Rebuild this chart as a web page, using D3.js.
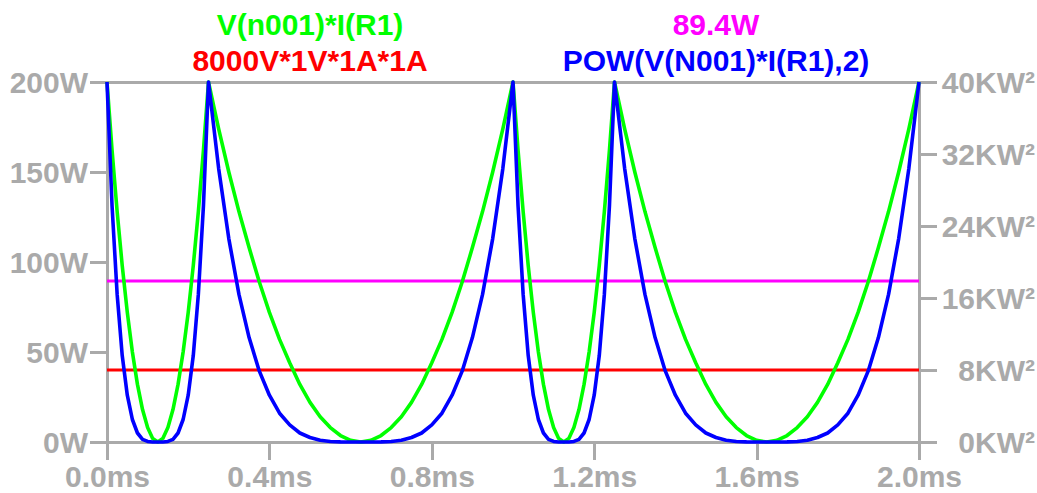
<!DOCTYPE html>
<html lang="en">
<head>
<meta charset="UTF-8">
<title>Power trace</title>
<style>
  body { margin: 0; background: #fff; }
  svg text { font-family: Arial, "Liberation Sans", sans-serif; font-weight: bold; font-size: 30px; }
  .axis path, .axis line { stroke: #aaaaaa; stroke-width: 3px; shape-rendering: crispEdges; }
  .axis text { fill: #aaaaaa; }
  .trace { fill: none; stroke-width: 3.6px; stroke-linejoin: round; }
</style>
</head>
<body>
<div id="chart"></div>
<script src="https://d3js.org/d3.v7.min.js"></script>
<script>
// time samples (ms)
var timeMs = [
  0, 0.0125, 0.025, 0.0375, 0.05, 0.0625, 0.075, 0.0875, 0.1, 0.1125, 0.125,
  0.1375, 0.15, 0.1625, 0.175, 0.1875, 0.2, 0.2125, 0.225, 0.2375, 0.25,
  0.275, 0.3, 0.325, 0.35, 0.375, 0.4, 0.425, 0.45, 0.475, 0.5,
  0.525, 0.55, 0.575, 0.6, 0.625, 0.65, 0.675, 0.7, 0.725, 0.75,
  0.775, 0.8, 0.825, 0.85, 0.875, 0.9, 0.925, 0.95, 0.975, 1.0,
  1.0125, 1.025, 1.0375, 1.05, 1.0625, 1.075, 1.0875, 1.1, 1.1125, 1.125,
  1.1375, 1.15, 1.1625, 1.175, 1.1875, 1.2, 1.2125, 1.225, 1.2375, 1.25,
  1.275, 1.3, 1.325, 1.35, 1.375, 1.4, 1.425, 1.45, 1.475, 1.5,
  1.525, 1.55, 1.575, 1.6, 1.625, 1.65, 1.675, 1.7, 1.725, 1.75,
  1.775, 1.8, 1.825, 1.85, 1.875, 1.9, 1.925, 1.95, 1.975, 2.0
];

// V(n001)*I(R1) in W
var powerW = [
  200, 162, 128, 98, 72, 50, 32, 18, 8, 2, 0,
  2, 8, 18, 32, 50, 72, 98, 128, 162, 200,
  174, 150, 128, 108, 89, 72, 57, 44, 32, 22,
  14, 8, 3.6, 0.9, 0, 0.9, 3.6, 8, 14, 22,
  32, 44, 57, 72, 89, 108, 128, 150, 174, 200,
  162, 128, 98, 72, 50, 32, 18, 8, 2, 0,
  2, 8, 18, 32, 50, 72, 98, 128, 162, 200,
  174, 150, 128, 108, 89, 72, 57, 44, 32, 22,
  14, 8, 3.6, 0.9, 0, 0.9, 3.6, 8, 14, 22,
  32, 44, 57, 72, 89, 108, 128, 150, 174, 200
];

// POW(V(N001)*I(R1),2) in KW²
var powerSqKW2 = [
  40, 26.2, 16.4, 9.6, 5.2, 2.5, 1.0, 0.3, 0.06, 0, 0,
  0, 0.06, 0.3, 1.0, 2.5, 5.2, 9.6, 16.4, 26.2, 40,
  30.4, 22.6, 16.4, 11.6, 7.9, 5.2, 3.2, 1.9, 1.0, 0.5,
  0.2, 0.06, 0.01, 0, 0, 0, 0.01, 0.06, 0.2, 0.5,
  1.0, 1.9, 3.2, 5.2, 7.9, 11.6, 16.4, 22.6, 30.4, 40,
  26.2, 16.4, 9.6, 5.2, 2.5, 1.0, 0.3, 0.06, 0, 0,
  0, 0.06, 0.3, 1.0, 2.5, 5.2, 9.6, 16.4, 26.2, 40,
  30.4, 22.6, 16.4, 11.6, 7.9, 5.2, 3.2, 1.9, 1.0, 0.5,
  0.2, 0.06, 0.01, 0, 0, 0, 0.01, 0.06, 0.2, 0.5,
  1.0, 1.9, 3.2, 5.2, 7.9, 11.6, 16.4, 22.6, 30.4, 40
];

// constant traces
var avgPowerW = 89.4;     // magenta, left axis
var constKW2 = 8;         // red, right axis (8000V*1V*1A*1A)

var xTicks = [0, 0.4, 0.8, 1.2, 1.6, 2.0];
var leftTicks = [0, 50, 100, 150, 200];
var rightTicks = [0, 8, 16, 24, 32, 40];

var width = 1037, height = 493;
var plotLeft = 107, plotRight = 919, plotTop = 82, plotBottom = 442;

var svg = d3.select("#chart")
    .append("svg")
    .attr("width", width)
    .attr("height", height);

var x = d3.scaleLinear().domain([0, 2]).range([plotLeft, plotRight]);
var yL = d3.scaleLinear().domain([0, 200]).range([plotBottom, plotTop]);
var yR = d3.scaleLinear().domain([0, 40]).range([plotBottom, plotTop]);

// frame top line
svg.append("g").attr("class", "axis")
    .append("line")
    .attr("x1", plotLeft).attr("x2", plotRight)
    .attr("y1", plotTop).attr("y2", plotTop);

svg.append("g")
    .attr("class", "axis")
    .attr("transform", "translate(0," + plotBottom + ")")
    .call(d3.axisBottom(x).tickValues(xTicks).tickSize(18).tickSizeOuter(0).tickPadding(6)
        .tickFormat(function (d) { return d.toFixed(1) + "ms"; }));

svg.append("g")
    .attr("class", "axis")
    .attr("transform", "translate(" + plotLeft + ",0)")
    .call(d3.axisLeft(yL).tickValues(leftTicks).tickSize(17).tickSizeOuter(0).tickPadding(2)
        .tickFormat(function (d) { return d + "W"; }))
    .selectAll("text").attr("dy", "0.36em");

var rAxis = svg.append("g")
    .attr("class", "axis")
    .attr("transform", "translate(" + plotRight + ",0)")
    .call(d3.axisRight(yR).tickValues(rightTicks).tickSize(18).tickSizeOuter(0)
        .tickFormat(function (d) { return d + "KW\u00b2"; }));
rAxis.selectAll("text")
    .attr("text-anchor", "end")
    .attr("x", 1035 - plotRight)
    .attr("dy", "0.36em");

// horizontal traces
svg.append("line")
    .attr("x1", plotLeft).attr("x2", plotRight)
    .attr("y1", yL(avgPowerW)).attr("y2", yL(avgPowerW))
    .attr("stroke", "#ff00ff").attr("stroke-width", 3);

svg.append("line")
    .attr("x1", plotLeft).attr("x2", plotRight)
    .attr("y1", yR(constKW2)).attr("y2", yR(constKW2))
    .attr("stroke", "#ff0000").attr("stroke-width", 3);

var greenLine = d3.line()
    .x(function (d, i) { return x(timeMs[i]); })
    .y(function (d) { return yL(d); });

var blueLine = d3.line()
    .x(function (d, i) { return x(timeMs[i]); })
    .y(function (d) { return yR(d); });

svg.append("path")
    .datum(powerW)
    .attr("class", "trace")
    .attr("stroke", "#00ff00")
    .attr("d", greenLine);

svg.append("path")
    .datum(powerSqKW2)
    .attr("class", "trace")
    .attr("stroke", "#0000ff")
    .attr("d", blueLine);

// trace names
var midL = plotLeft + (plotRight - plotLeft) * 0.25;
var midR = plotLeft + (plotRight - plotLeft) * 0.75;

svg.append("text").attr("x", midL).attr("y", 35).attr("text-anchor", "middle")
    .attr("fill", "#00ff00").text("V(n001)*I(R1)");
svg.append("text").attr("x", midL).attr("y", 71).attr("text-anchor", "middle")
    .attr("fill", "#ff0000").text("8000V*1V*1A*1A");
svg.append("text").attr("x", midR).attr("y", 35).attr("text-anchor", "middle")
    .attr("fill", "#ff00ff").text("89.4W");
svg.append("text").attr("x", midR).attr("y", 71).attr("text-anchor", "middle")
    .attr("fill", "#0000ff").text("POW(V(N001)*I(R1),2)");
</script>
</body>
</html>
